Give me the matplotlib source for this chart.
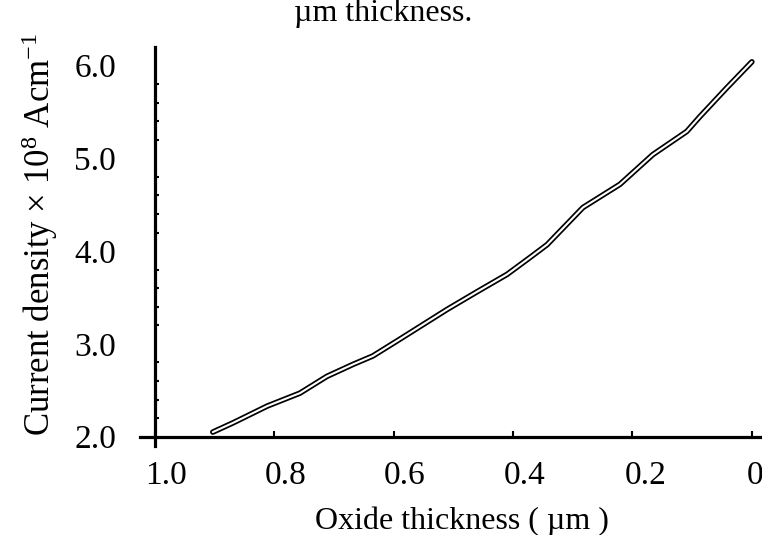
import numpy as np
import matplotlib.pyplot as plt
from matplotlib.transforms import ScaledTranslation

# oxide thickness (um) vs. current density (x 1e8 A/cm)
thickness = [0.903, 0.869, 0.812, 0.757, 0.712, 0.668, 0.635, 0.590,
             0.511, 0.461, 0.410, 0.372, 0.343, 0.283, 0.221, 0.166,
             0.109, 0.087, 0.042, 0.0]
density = [2.05, 2.15, 2.33, 2.47, 2.65, 2.78, 2.87, 3.05,
           3.37, 3.56, 3.75, 3.93, 4.07, 4.47, 4.72, 5.04,
           5.29, 5.45, 5.76, 6.04]

x_ticks = [1.0, 0.8, 0.6, 0.4, 0.2, 0.0]
x_labels = ['1.0', '0.8', '0.6', '0.4', '0.2', '0']
y_ticks = [2.0, 3.0, 4.0, 5.0, 6.0]
y_labels = ['2.0', '3.0', '4.0', '5.0', '6.0']

plt.rcParams['font.family'] = ['Liberation Serif', 'DejaVu Serif']
plt.rcParams['mathtext.fontset'] = 'custom'
plt.rcParams['mathtext.rm'] = 'Liberation Serif'
plt.rcParams['mathtext.it'] = 'Liberation Serif:italic'
fs = 23

W, H = 762, 535
fig = plt.figure(figsize=(W / 100, H / 100), dpi=100)
ax = fig.add_axes([140 / W, (H - 446) / H, 622 / W, (446 - 47) / H])
ax.set_xlim(1.025, -0.017)
ax.set_ylim(1.9, 6.2)

# hollow line: thick black stroke with a thin white core
ax.plot(thickness, density, color='black', lw=4.0, solid_capstyle='round', zorder=3)
ax.plot(thickness, density, color='white', lw=1.5, solid_capstyle='round', zorder=4)

for side in ['top', 'right']:
    ax.spines[side].set_visible(False)
ax.spines['left'].set_position(('data', 1.0))
ax.spines['bottom'].set_position(('data', 2.0))
ax.spines['left'].set_linewidth(2.3)
ax.spines['bottom'].set_linewidth(2.3)

ax.set_xticks(x_ticks)
ax.set_xticklabels(x_labels, fontsize=24)
ax.tick_params(axis='x', direction='in', length=4, width=1.5, pad=17)
# the printed tick labels sit a little right of their ticks
# (the last one is pulled back so it stays on the page)
for lbl, dx in zip(ax.get_xticklabels(), [11, 11, 11, 12, 13, 3]):
    lbl.set_transform(lbl.get_transform() +
                      ScaledTranslation(dx / 100, 0, fig.dpi_scale_trans))

ax.set_yticks(y_ticks)
ax.set_yticklabels(y_labels, fontsize=24)
ax.set_yticks(np.arange(2.2, 6.1, 0.2), minor=True)
ax.tick_params(axis='y', which='major', length=0, pad=28)
ax.tick_params(axis='y', which='minor', direction='in', length=3, width=1.5)

fig.text(462 / W, 1 - 529 / H, 'Oxide thickness ( µm )',
         fontsize=fs, ha='center', va='baseline')
fig.text(40 / W, 1 - 234 / H,
         'Current density × 10$^{8}$ Acm$^{-1}$',
         fontsize=25, ha='center', va='center', rotation=90)
fig.text(383 / W, 1 - 21 / H, 'µm thickness.',
         fontsize=fs, ha='center', va='baseline')

fig.savefig('out.png', dpi=100)
